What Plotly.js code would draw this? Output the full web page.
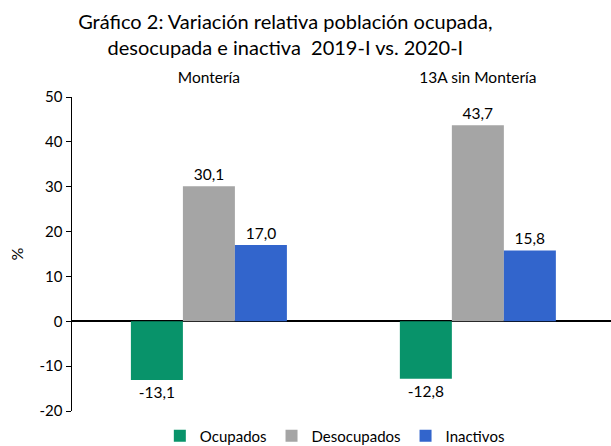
<!DOCTYPE html>
<html><head><meta charset="utf-8">
<script src="https://cdn.plot.ly/plotly-3.0.1.min.js"></script>
<style>body{margin:0;background:#fff}#c{width:611px;height:446px}</style>
</head><body><div id="c"></div>
<script>
const categories = ['Montería', '13A sin Montería'];
const ocupados = [-13.1, -12.8];
const desocupados = [30.1, 43.7];
const inactivos = [17.0, 15.8];
const yTicks = [-20, -10, 0, 10, 20, 30, 40, 50];

const F = 'Lato, "Open Sans", sans-serif';
function mk(name, y, color) {
  return {type: 'bar', name: name, x: categories, y: y,
    marker: {color: color, line: {width: 0}},
    texttemplate: '%{y:.1f}', textposition: 'outside', cliponaxis: false,
    textfont: {family: F, size: 15.5, color: '#000'}, hoverinfo: 'none'};
}
const data = [
  mk('Ocupados', ocupados, '#08936a'),
  mk('Desocupados', desocupados, '#a5a5a5'),
  mk('Inactivos', inactivos, '#3265cc')
];
const layout = {
  width: 611, height: 446,
  margin: {l: 72, r: 0, t: 97, b: 35, autoexpand: false},
  paper_bgcolor: '#fff', plot_bgcolor: '#fff',
  separators: ',.',
  font: {family: F, size: 15, color: '#000'},
  title: {text: 'Gráfico 2: Variación relativa población ocupada,<br>desocupada e inactiva  2019-I vs. 2020-I',
    font: {family: F, size: 20, color: '#000'}, x: 0.467, xanchor: 'center', xref: 'container',
    y: 0.935, yanchor: 'top', yref: 'container'},
  barmode: 'group', bargap: 0.42, bargroupgap: 0,
  xaxis: {type: 'category', side: 'top', range: [-0.509, 1.495], showline: false, ticks: '',
    ticklabelstandoff: 10, tickfont: {family: F, size: 15.5, color: '#000'}, showgrid: false, zeroline: false},
  yaxis: {range: [-20, 50], tickvals: yTicks, ticktext: yTicks.map(String), showgrid: false,
    showline: true, linecolor: '#000', linewidth: 1.5, ticks: 'outside', ticklen: 5, tickcolor: '#000',
    zeroline: true, zerolinecolor: '#000', zerolinewidth: 2,
    tickfont: {family: F, size: 15, color: '#000'},
    title: {text: '%', font: {family: F, size: 16, color: '#000'}, standoff: 12}},
  showlegend: true,
  legend: {orientation: 'h', x: 0.548, xref: 'container', xanchor: 'center', y: 0.0224, yref: 'container', yanchor: 'middle',
    font: {family: F, size: 15, color: '#000'}, itemwidth: 30, traceorder: 'normal'}
};
Plotly.newPlot('c', data, layout, {staticPlot: true});
</script></body></html>
